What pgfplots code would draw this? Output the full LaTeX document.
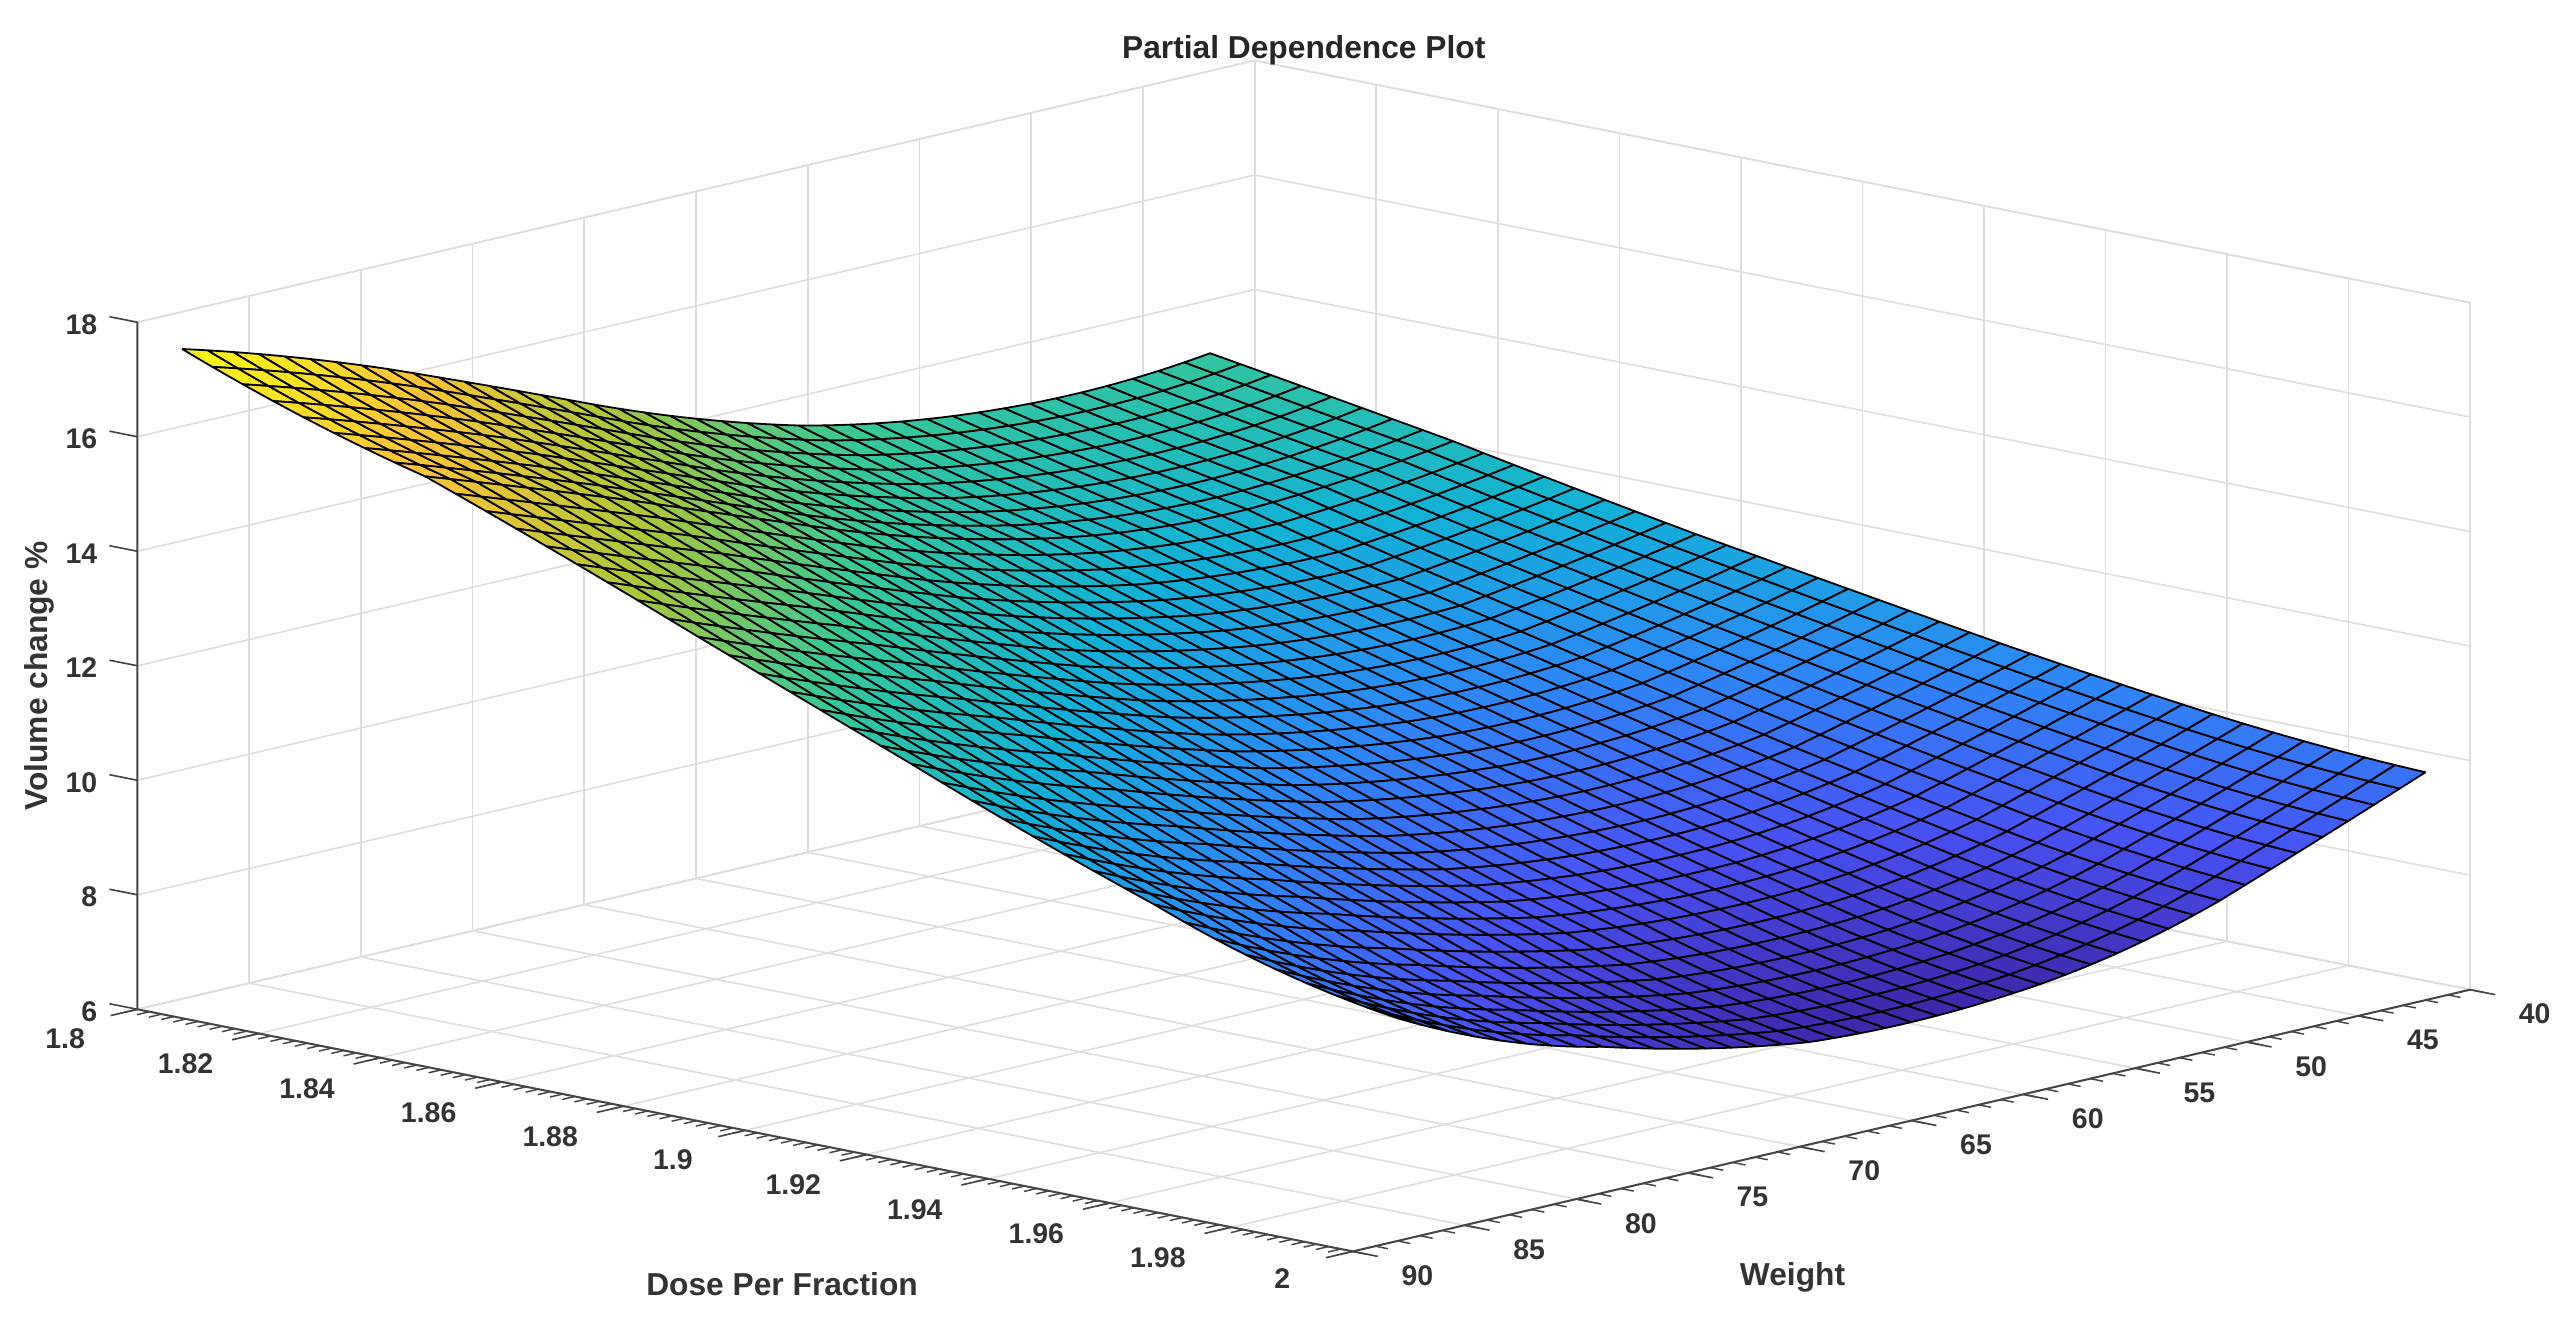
\documentclass[border=0pt]{standalone}
\usepackage{fontspec}
\setmainfont{Liberation Sans}
\usepackage{pgfplots}
\usepgfplotslibrary{patchplots}
\pgfplotsset{compat=1.18}
\definecolor{axgray}{gray}{0.27}

\pgfplotsset{pdp/.style={patch, patch type=biquadratic, patch refines=3, shader=faceted,
  faceted color=black, line width=0.55pt, table/row sep=\\,
  patch table={
8 30 32 10 19 31 21 9 20\\
6 28 30 8 17 29 19 7 18\\
4 26 28 6 15 27 17 5 16\\
2 24 26 4 13 25 15 3 14\\
0 22 24 2 11 23 13 1 12\\
}}}

% partial dependence: dose, weight, volume change
\begin{document}
\begin{tikzpicture}
\begin{axis}[
  x={(1857.5pt,-370pt)}, y={(6.83pt,1.6pt)}, z={(0pt,17.5pt)},
  y dir=reverse,
  xmin=1.8, xmax=2, ymin=40, ymax=90, zmin=6, zmax=18,
  enlargelimits=false, clip=false,
  3d box=background,
  xtick={1.8,1.82,...,2.001}, ytick={40,45,...,90}, ztick={6,8,...,18},
  minor x tick num=0, minor y tick num=0, minor z tick num=0,
  xtick pos=left, ytick pos=left, ztick pos=left,
  scaled ticks=false,
  grid=major, grid style={black!13, line width=0.5pt},
  axis line style={black!13, line width=0.5pt},
  tick align=outside,
  major tick length=9pt,
  tick style={draw=none},
  /pgf/number format/assume math mode=true,
  /pgf/number format/.cd, fixed, precision=2, /tikz/.cd,
  ticklabel style={font=\fontsize{8.7}{10}\selectfont\bfseries, text=black!80},
  xticklabel style={xshift=-7.5pt, yshift=0.5pt},
  yticklabel style={xshift=5pt, yshift=1.5pt},
  zticklabel style={yshift=1.5pt},
  title={Partial Dependence Plot},
  xlabel={Dose Per Fraction}, ylabel={Weight}, zlabel={Volume change \%},
  title style={at={(axis cs:1.9,65,22.23)}, anchor=center, font=\fontsize{9.7}{11}\selectfont\bfseries, text=black!85},
  xlabel style={at={(axis cs:1.9616,105.1,6)}, anchor=center, font=\fontsize{9.7}{11}\selectfont\bfseries, text=black!80},
  ylabel style={at={(axis cs:2.049,83.65,6)}, anchor=center, font=\fontsize{9.7}{11}\selectfont\bfseries, text=black!80},
  zlabel style={at={(axis cs:1.7838,90,11.48)}, anchor=center, font=\fontsize{9.7}{11}\selectfont\bfseries, text=black!80},
  colormap={parula}{rgb=(.2422,.1504,.6603) rgb=(.2810,.3228,.9579) rgb=(.1786,.5289,.9682)
    rgb=(.0689,.6948,.8394) rgb=(.2161,.7843,.5923) rgb=(.6720,.7793,.2227)
    rgb=(.9970,.7659,.2199) rgb=(.9769,.9839,.0805)},
  point meta min=7.7, point meta max=17.35,
]
\addplot3[pdp] table[point meta=\thisrow{z}] {
x y z\\
1.80 88.0 17.35\\ 1.80 83.4 16.80\\ 1.80 78.8 16.16\\ 1.80 74.2 15.44\\ 1.80 69.6 14.70\\ 1.80 65.0 14.03\\ 1.80 60.4 13.49\\ 1.80 55.8 13.14\\ 1.80 51.2 12.95\\ 1.80 46.6 12.92\\ 1.80 42.0 13.07\\
1.82 88.0 16.58\\ 1.82 83.4 16.00\\ 1.82 78.8 15.37\\ 1.82 74.2 14.68\\ 1.82 69.6 13.98\\ 1.82 65.0 13.37\\ 1.82 60.4 12.89\\ 1.82 55.8 12.60\\ 1.82 51.2 12.47\\ 1.82 46.6 12.51\\ 1.82 42.0 12.73\\
1.84 88.0 15.97\\ 1.84 83.4 15.35\\ 1.84 78.8 14.71\\ 1.84 74.2 14.03\\ 1.84 69.6 13.36\\ 1.84 65.0 12.79\\ 1.84 60.4 12.36\\ 1.84 55.8 12.10\\ 1.84 51.2 12.03\\ 1.84 46.6 12.15\\ 1.84 42.0 12.38\\
};
\addplot3[pdp] table[point meta=\thisrow{z}] {
x y z\\
1.84 88.0 15.97\\ 1.84 83.4 15.35\\ 1.84 78.8 14.71\\ 1.84 74.2 14.03\\ 1.84 69.6 13.36\\ 1.84 65.0 12.79\\ 1.84 60.4 12.36\\ 1.84 55.8 12.10\\ 1.84 51.2 12.03\\ 1.84 46.6 12.15\\ 1.84 42.0 12.38\\
1.86 88.0 15.17\\ 1.86 83.4 14.52\\ 1.86 78.8 13.89\\ 1.86 74.2 13.23\\ 1.86 69.6 12.60\\ 1.86 65.0 12.09\\ 1.86 60.4 11.71\\ 1.86 55.8 11.51\\ 1.86 51.2 11.47\\ 1.86 46.6 11.69\\ 1.86 42.0 11.98\\
1.88 88.0 14.33\\ 1.88 83.4 13.66\\ 1.88 78.8 13.04\\ 1.88 74.2 12.41\\ 1.88 69.6 11.82\\ 1.88 65.0 11.37\\ 1.88 60.4 11.07\\ 1.88 55.8 10.93\\ 1.88 51.2 10.97\\ 1.88 46.6 11.26\\ 1.88 42.0 11.60\\
};
\addplot3[pdp] table[point meta=\thisrow{z}] {
x y z\\
1.88 88.0 14.33\\ 1.88 83.4 13.66\\ 1.88 78.8 13.04\\ 1.88 74.2 12.41\\ 1.88 69.6 11.82\\ 1.88 65.0 11.37\\ 1.88 60.4 11.07\\ 1.88 55.8 10.93\\ 1.88 51.2 10.97\\ 1.88 46.6 11.26\\ 1.88 42.0 11.60\\
1.90 88.0 13.48\\ 1.90 83.4 12.79\\ 1.90 78.8 12.19\\ 1.90 74.2 11.59\\ 1.90 69.6 11.05\\ 1.90 65.0 10.67\\ 1.90 60.4 10.43\\ 1.90 55.8 10.37\\ 1.90 51.2 10.49\\ 1.90 46.6 10.84\\ 1.90 42.0 11.26\\
1.92 88.0 12.64\\ 1.92 83.4 11.93\\ 1.92 78.8 11.35\\ 1.92 74.2 10.78\\ 1.92 69.6 10.29\\ 1.92 65.0 9.98\\ 1.92 60.4 9.81\\ 1.92 55.8 9.82\\ 1.92 51.2 10.01\\ 1.92 46.6 10.44\\ 1.92 42.0 10.92\\
};
\addplot3[pdp] table[point meta=\thisrow{z}] {
x y z\\
1.92 88.0 12.64\\ 1.92 83.4 11.93\\ 1.92 78.8 11.35\\ 1.92 74.2 10.78\\ 1.92 69.6 10.29\\ 1.92 65.0 9.98\\ 1.92 60.4 9.81\\ 1.92 55.8 9.82\\ 1.92 51.2 10.01\\ 1.92 46.6 10.44\\ 1.92 42.0 10.92\\
1.94 88.0 11.80\\ 1.94 83.4 11.07\\ 1.94 78.8 10.51\\ 1.94 74.2 9.98\\ 1.94 69.6 9.54\\ 1.94 65.0 9.29\\ 1.94 60.4 9.20\\ 1.94 55.8 9.28\\ 1.94 51.2 9.56\\ 1.94 46.6 10.06\\ 1.94 42.0 10.60\\
1.96 88.0 11.03\\ 1.96 83.4 10.28\\ 1.96 78.8 9.73\\ 1.96 74.2 9.24\\ 1.96 69.6 8.85\\ 1.96 65.0 8.67\\ 1.96 60.4 8.64\\ 1.96 55.8 8.79\\ 1.96 51.2 9.15\\ 1.96 46.6 9.72\\ 1.96 42.0 10.32\\
};
\addplot3[pdp] table[point meta=\thisrow{z}] {
x y z\\
1.96 88.0 11.03\\ 1.96 83.4 10.28\\ 1.96 78.8 9.73\\ 1.96 74.2 9.24\\ 1.96 69.6 8.85\\ 1.96 65.0 8.67\\ 1.96 60.4 8.64\\ 1.96 55.8 8.79\\ 1.96 51.2 9.15\\ 1.96 46.6 9.72\\ 1.96 42.0 10.32\\
1.98 88.0 10.32\\ 1.98 83.4 9.55\\ 1.98 78.8 9.02\\ 1.98 74.2 8.56\\ 1.98 69.6 8.22\\ 1.98 65.0 8.10\\ 1.98 60.4 8.14\\ 1.98 55.8 8.36\\ 1.98 51.2 8.80\\ 1.98 46.6 9.43\\ 1.98 42.0 10.10\\
2.00 88.0 9.89\\ 2.00 83.4 9.08\\ 2.00 78.8 8.55\\ 2.00 74.2 8.10\\ 2.00 69.6 7.79\\ 2.00 65.0 7.72\\ 2.00 60.4 7.81\\ 2.00 55.8 8.08\\ 2.00 51.2 8.58\\ 2.00 46.6 9.27\\ 2.00 42.0 9.98\\
};
% MATLAB-style ticks on the three front edges only
\draw[axgray, line width=0.6pt] (axis cs:1.8,90,18) -- (axis cs:1.8,90,6) -- (axis cs:2,90,6) -- (axis cs:2,40,6);
\pgfplotsinvokeforeach{0,...,100}{\draw[axgray, line width=0.45pt] (axis cs:{1.8+0.002*#1},90,6) -- (axis cs:{1.8+0.002*#1},90.57,6);}
\pgfplotsinvokeforeach{1.8,1.82,1.84,1.86,1.88,1.9,1.92,1.94,1.96,1.98,2}{\draw[axgray, line width=0.5pt] (axis cs:#1,90,6) -- (axis cs:#1,91.2,6);}
\pgfplotsinvokeforeach{0,...,50}{\draw[axgray, line width=0.45pt] (axis cs:2,{40+#1},6) -- (axis cs:2.0021,{40+#1},6);}
\pgfplotsinvokeforeach{40,45,50,55,60,65,70,75,80,85,90}{\draw[axgray, line width=0.5pt] (axis cs:2,#1,6) -- (axis cs:2.0041,#1,6);}
\pgfplotsinvokeforeach{6,8,10,12,14,16,18}{\draw[axgray, line width=0.5pt] (axis cs:1.8,90,#1) -- (axis cs:1.7954,90,#1);}
\coordinate (O) at (axis cs:1.8,90,6);
\end{axis}
\pgfresetboundingbox
\useasboundingbox ([shift={(-42pt,-94.5pt)}]O) rectangle ([shift={(742pt,308.5pt)}]O);
\end{tikzpicture}
\end{document}
